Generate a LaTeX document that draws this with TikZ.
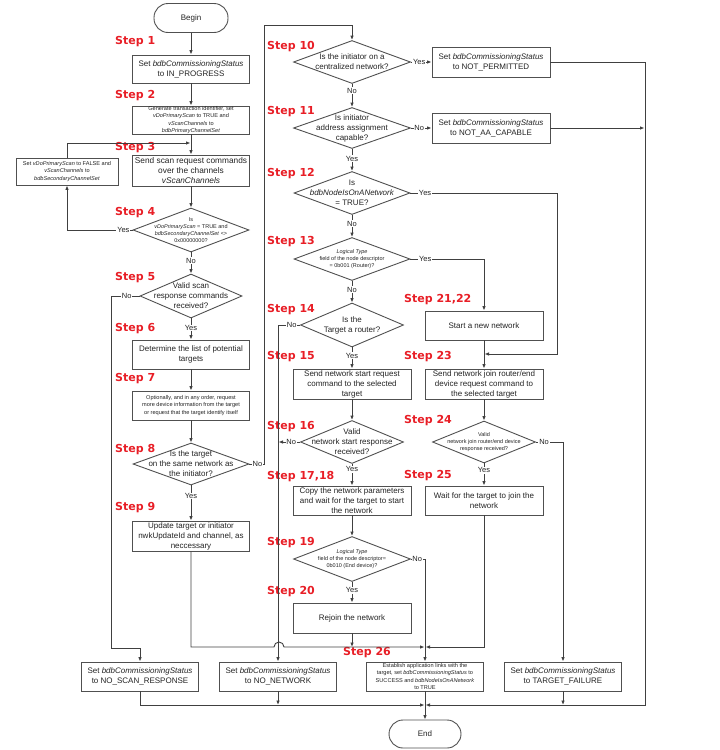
\documentclass[tikz,border=0pt]{standalone}
\usepackage{fontspec}
\setmainfont{Liberation Sans}
\newfontfamily\stepfont{DejaVu Sans}
\usetikzlibrary{arrows.meta,shapes.geometric}
\definecolor{stepred}{RGB}{232,30,38}
\definecolor{ln}{RGB}{64,64,64}
\definecolor{bx}{RGB}{80,80,80}
\definecolor{tx}{RGB}{35,35,35}
\tikzset{
 box/.style={draw=bx, line width=0.9pt, rectangle, minimum width=117pt, minimum height=29pt, inner sep=0pt, align=center, text=tx, font=\fontsize{8}{10}\selectfont},
 sbox/.style={box, font=\fontsize{5.6}{7.4}\selectfont},
 term/.style={draw=bx, line width=0.9pt, rectangle, rounded corners=14pt, minimum width=74pt, minimum height=29pt, text=tx, font=\fontsize{8}{10}\selectfont},
 dec/.style={draw=bx, line width=0.9pt, diamond, inner sep=0pt},
 dtxt/.style={align=center, text=tx, inner sep=0pt, font=\fontsize{8}{10}\selectfont},
 sdtxt/.style={dtxt, font=\fontsize{5.5}{7}\selectfont},
 steplbl/.style={anchor=west, text=stepred, inner sep=0pt, font=\stepfont\bfseries\fontsize{11}{13}\selectfont},
 lbl/.style={fill=white, inner sep=0.8pt, text=tx, font=\fontsize{7.5}{9}\selectfont},
 conn/.style={draw=ln, line width=0.9pt},
 arr/.style={conn, -{Latex[length=4.5pt,width=3.6pt]}},
}
\begin{document}
\begin{tikzpicture}[x=1pt,y=-1pt]
\useasboundingbox (0,0) rectangle (720,750);
% ---------- left column ----------
\node[term] (begin) at (191,18) {Begin};
\node[box, minimum height=28pt] (s1) at (191,69) {Set \textit{bdbCommissioningStatus}\\to IN\_PROGRESS};
\node[sbox, minimum height=28pt] (s2) at (191,120) {Generate transaction identifier, set\\\textit{vDoPrimaryScan} to TRUE and\\\textit{vScanChannels} to\\\textit{bdbPrimaryChannelSet}};
\node[box, minimum height=31pt, font=\fontsize{8.3}{10.2}\selectfont] (s3) at (191,170.5) {Send scan request commands\\over the channels\\\textit{vScanChannels}};
\node[sbox, minimum width=102pt, minimum height=27pt] (lb) at (67,171.5) {Set \textit{vDoPrimaryScan} to FALSE and\\\textit{vScanChannels} to\\\textit{bdbSecondaryChannelSet}};
\node[dec, minimum width=116pt, minimum height=44pt] (d4) at (191,230) {};
\node[sdtxt] (d4t) at (d4) {Is\\\textit{vDoPrimaryScan} = TRUE and\\\textit{bdbSecondaryChannelSet} <>\\0x00000000?};
\node[dec, minimum width=102pt, minimum height=44pt] (d5) at (191,296) {};
\node[dtxt] (d5t) at (d5) {Valid scan\\response commands\\received?};
\node[box] (s6) at (191,354.5) {Determine the list of potential\\targets};
\node[sbox] (s7) at (191,405.5) {Optionally, and in any order, request\\more device information from the target\\or request that the target identify itself};
\node[dec, minimum width=116pt, minimum height=42pt] (d8) at (191,464) {};
\node[dtxt] (d8t) at (d8) {Is the target\\on the same network as\\the initiator?};
\node[box, minimum height=30pt] (s9) at (191,536) {Update target or initiator\\nwkUpdateId and channel, as\\neccessary};
% ---------- middle column ----------
\node[dec, minimum width=117pt, minimum height=43pt] (d10) at (352,62) {};
\node[dtxt] (d10t) at (d10) {Is the initiator on a\\centralized network?};
\node[box, minimum width=118pt, minimum height=30pt] (np) at (491,62) {Set \textit{bdbCommissioningStatus}\\to NOT\_PERMITTED};
\node[dec, minimum width=117pt, minimum height=41pt] (d11) at (352,128) {};
\node[dtxt] (d11t) at (d11) {Is initiator\\address assignment\\capable?};
\node[box, minimum width=118pt, minimum height=30pt] (naa) at (491,128) {Set \textit{bdbCommissioningStatus}\\to NOT\_AA\_CAPABLE};
\node[dec, minimum width=116pt, minimum height=43pt] (d12) at (352,193) {};
\node[dtxt] (d12t) at (d12) {Is\\\textit{bdbNodeIsOnANetwork}\\= TRUE?};
\node[dec, minimum width=116pt, minimum height=43pt] (d13) at (352,259) {};
\node[sdtxt] (d13t) at (d13) {\textit{Logical Type}\\field of the node descriptor\\= 0b001 (Router)?};
\node[dec, minimum width=103pt, minimum height=44pt] (d14) at (352,325) {};
\node[dtxt] (d14t) at (d14) {Is the\\Target a router?};
\node[box, minimum width=118pt, minimum height=30pt] (s15) at (352,384) {Send network start request\\command to the selected\\target};
\node[dec, minimum width=103pt, minimum height=43pt] (d16) at (352,442) {};
\node[dtxt] (d16t) at (d16) {Valid\\network start response\\received?};
\node[box, minimum width=118pt] (s17) at (352,500.5) {Copy the network parameters\\and wait for the target to start\\the network};
\node[dec, minimum width=117pt, minimum height=45pt] (d19) at (352,559) {};
\node[sdtxt] (d19t) at (d19) {\textit{Logical Type}\\field of the node descriptor=\\0b010 (End device)?};
\node[box, minimum width=118pt, minimum height=30pt] (s20) at (352,618) {Rejoin the network};
% ---------- right column ----------
\node[box, minimum width=118pt] (s21) at (484,325.5) {Start a new network};
\node[box, minimum width=118pt, minimum height=30pt] (s23) at (484,384) {Send network join router/end\\device request command to\\the selected target};
\node[dec, minimum width=103pt, minimum height=42pt] (d24) at (484,442) {};
\node[sdtxt] (d24t) at (d24) {Valid\\network join router/end device\\response received?};
\node[box, minimum width=118pt] (s25) at (484,500.5) {Wait for the target to join the\\network};
% ---------- bottom row ----------
\node[box] (nsr) at (140,676.5) {Set \textit{bdbCommissioningStatus}\\to NO\_SCAN\_RESPONSE};
\node[box] (nnw) at (278,676.5) {Set \textit{bdbCommissioningStatus}\\to NO\_NETWORK};
\node[sbox] (s26) at (425,676.5) {Establish application links with the\\target, set \textit{bdbCommissioningStatus} to\\SUCCESS and \textit{bdbNodeIsOnANetwork}\\to TRUE};
\node[box] (tf) at (563,676.5) {Set \textit{bdbCommissioningStatus}\\to TARGET\_FAILURE};
\node[term, minimum width=72pt, minimum height=28pt] (end) at (425,734) {End};
% ---------- step labels ----------
\node[steplbl] (l1) at (115,42) {Step 1};
\node[steplbl] (l2) at (115,96) {Step 2};
\node[steplbl] (l3) at (115,148) {Step 3};
\node[steplbl] (l4) at (115,213) {Step 4};
\node[steplbl] (l5) at (115,278) {Step 5};
\node[steplbl] (l6) at (115,329) {Step 6};
\node[steplbl] (l7) at (115,379) {Step 7};
\node[steplbl] (l8) at (115,450) {Step 8};
\node[steplbl] (l9) at (115,508) {Step 9};
\node[steplbl] (l10) at (267,47) {Step 10};
\node[steplbl] (l11) at (267,112) {Step 11};
\node[steplbl] (l12) at (267,174) {Step 12};
\node[steplbl] (l13) at (267,242) {Step 13};
\node[steplbl] (l14) at (267,310) {Step 14};
\node[steplbl] (l15) at (267,357) {Step 15};
\node[steplbl] (l16) at (267,427) {Step 16};
\node[steplbl] (l17) at (267,477) {Step 17,18};
\node[steplbl] (l19) at (267,543) {Step 19};
\node[steplbl] (l20) at (267,592) {Step 20};
\node[steplbl] (l21) at (404,300) {Step 21,22};
\node[steplbl] (l23) at (404,357) {Step 23};
\node[steplbl] (l24) at (404,421) {Step 24};
\node[steplbl] (l25) at (404,476) {Step 25};
\node[steplbl] (l26) at (343,653) {Step 26};
% ---------- helper coordinates ----------
\coordinate (j3) at (191,143);
\coordinate (c5) at (111,648);
\coordinate (c8) at (264,25);
\coordinate (c12) at (557,193);
\coordinate (j23) at (484,354);
\coordinate (j26) at (425,647);
\coordinate (jump) at (274,647);
\coordinate (rb) at (645,705);
\coordinate (jb) at (425,705);
% ---------- connectors: left ----------
\draw[arr] (begin) -- (s1);
\draw[arr] (s1) -- (s2);
\draw[arr] (s2) -- (s3);
\draw[arr, shorten >=0.5pt] (lb.north) |- (j3);
\draw[arr] (s3) -- (d4);
\draw[arr] (d4.west) -- node[lbl,pos=0.14]{Yes} (d4.west -| lb.south) -- (lb.south);
\draw[arr] (d4) -- node[lbl,pos=0.4]{No} (d5);
\draw[arr] (d5.west) -- node[lbl,pos=0.45]{No} (d5.west -| c5) -- (c5) -| (nsr.north);
\draw[arr] (d5) -- node[lbl,pos=0.45]{Yes} (s6);
\draw[arr] (s6) -- (s7);
\draw[arr] (s7) -- (d8);
\draw[arr] (d8) -- node[lbl,pos=0.3]{Yes} (s9);
\draw[arr] (d8.east) -- node[lbl,pos=0.55]{No} (d8.east -| c8) -- (c8) -| (d10.north);
\draw[arr, shorten >=0.5pt] (s9.south) |- (jump) arc[start angle=180, end angle=360, radius=5] -- (j26);
% ---------- connectors: middle ----------
\draw[arr] (d10) -- node[lbl,pos=0.3]{No} (d11);
\draw[arr] (d10.east) -- node[lbl,pos=0.4]{Yes} (np.west);
\draw[arr] (d11.east) -- node[lbl,pos=0.4]{No} (naa.west);
\draw[arr] (d11) -- node[lbl,pos=0.45]{Yes} (d12);
\draw[arr, shorten >=0.5pt] (d12.east) -- node[lbl,pos=0.1]{Yes} (c12) |- (j23);
\draw[arr] (d12) -- node[lbl,pos=0.4]{No} (d13);
\draw[arr] (d13.east) -- node[lbl,pos=0.2]{Yes} (d13.east -| s21.north) -- (s21.north);
\draw[arr] (d13) -- node[lbl,pos=0.4]{No} (d14);
\draw[arr] (d14.west) -- node[lbl,pos=0.38]{No} (d14.west -| nnw.north) -- (nnw.north);
\draw[arr] (d14) -- node[lbl,pos=0.4]{Yes} (s15);
\draw[arr] (s15) -- (d16);
\draw[arr, shorten >=0.5pt] (d16.west) -- node[lbl,pos=0.4]{No} (d16.west -| nnw.north);
\draw[arr] (d16) -- node[lbl,pos=0.25]{Yes} (s17);
\draw[arr] (s17) -- (d19);
\draw[arr] (d19) -- node[lbl,pos=0.4]{Yes} (s20);
\draw[arr] (d19.east) -- node[lbl,pos=0.45]{No} (d19.east -| s26.north) -- (s26.north);
\draw[arr] (s20) -- (s20.south |- j26);
% ---------- connectors: right ----------
\draw[arr] (s21) -- (s23);
\draw[arr] (s23) -- (d24);
\draw[arr] (d24) -- node[lbl,pos=0.3]{Yes} (s25);
\draw[arr] (d24.east) -- node[lbl,pos=0.3]{No} (d24.east -| tf.north) -- (tf.north);
\draw[arr, shorten >=0.5pt] (s25.south) |- (j26);
\draw[arr, shorten >=0.5pt] (np.east) -| (rb) -- (jb);
\draw[arr, shorten >=0.5pt] (naa.east) -- (naa.east -| rb);
% ---------- connectors: bottom ----------
\draw[arr, shorten >=0.5pt] (nsr.south) |- (jb);
\draw[arr] (nnw.south) -- (nnw.south |- jb);
\draw[arr] (tf.south) -- (tf.south |- jb);
\draw[arr] (s26) -- (end);
\end{tikzpicture}
\end{document}
